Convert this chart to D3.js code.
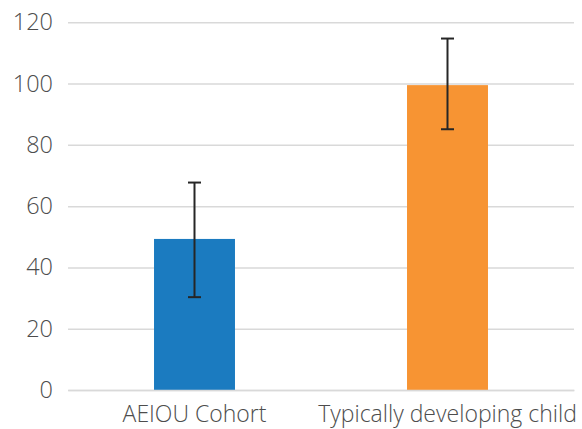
<!DOCTYPE html>
<html><head><meta charset="utf-8">
<script src="https://cdn.jsdelivr.net/npm/d3@7"></script>
<style>body{margin:0;background:#fff;} text{font-family:"Open Sans","Lato",sans-serif;fill:#4d4d4d;}</style>
</head><body>
<svg id="c" width="582" height="429"></svg>
<script>
const categories = ["AEIOU Cohort", "Typically developing child"];
const values = [49.3, 99.5];
const errLow = [30.3, 85.1];
const errHigh = [67.7, 114.7];
const colors = ["#1b7bc0", "#f79433"];
const yTicks = [0, 20, 40, 60, 80, 100, 120];

(function () {
const svg = d3.select("#c");
const mLeft = 68, mRight = 574, mTop = 22.3, mBottom = 390;
const x = d3.scaleBand().domain(categories).range([mLeft, mRight]).paddingInner(0.68).paddingOuter(0.34);
const y = d3.scaleLinear().domain([0, 120]).range([mBottom, mTop]);

const yAxis = d3.axisLeft(y).tickValues(yTicks).tickSize(-(mRight - mLeft)).tickPadding(15);
const gy = svg.append("g").attr("transform", `translate(${mLeft},0)`).call(yAxis);
gy.select(".domain").remove();
gy.selectAll(".tick line").attr("stroke", "#d9d9d9").attr("stroke-width", 1.5);
gy.selectAll(".tick text").attr("font-size", 23.5).attr("font-weight", 300).attr("fill", "#4d4d4d");

svg.selectAll("rect.bar").data(categories).enter().append("rect")
  .attr("class", "bar")
  .attr("x", d => x(d)).attr("width", x.bandwidth())
  .attr("y", (d, i) => y(values[i])).attr("height", (d, i) => y(0) - y(values[i]))
  .attr("fill", (d, i) => colors[i]);

const eg = svg.append("g").attr("stroke", "#262626").attr("stroke-width", 2);
categories.forEach((d, i) => {
  const cx = x(d) + x.bandwidth() / 2;
  eg.append("line").attr("x1", cx).attr("x2", cx).attr("y1", y(errLow[i])).attr("y2", y(errHigh[i]));
  eg.append("line").attr("x1", cx - 6.5).attr("x2", cx + 6.5).attr("y1", y(errLow[i])).attr("y2", y(errLow[i]));
  eg.append("line").attr("x1", cx - 6.5).attr("x2", cx + 6.5).attr("y1", y(errHigh[i])).attr("y2", y(errHigh[i]));
});

const xAxis = d3.axisBottom(x).tickSize(0).tickPadding(16);
const gx = svg.append("g").attr("transform", `translate(0,${mBottom})`).call(xAxis);
gx.select(".domain").attr("stroke", "#d9d9d9").attr("stroke-width", 1.5);
gx.selectAll(".tick text").attr("font-size", 23).attr("font-weight", 300).attr("fill", "#4d4d4d");
})();
</script>
</body></html>
